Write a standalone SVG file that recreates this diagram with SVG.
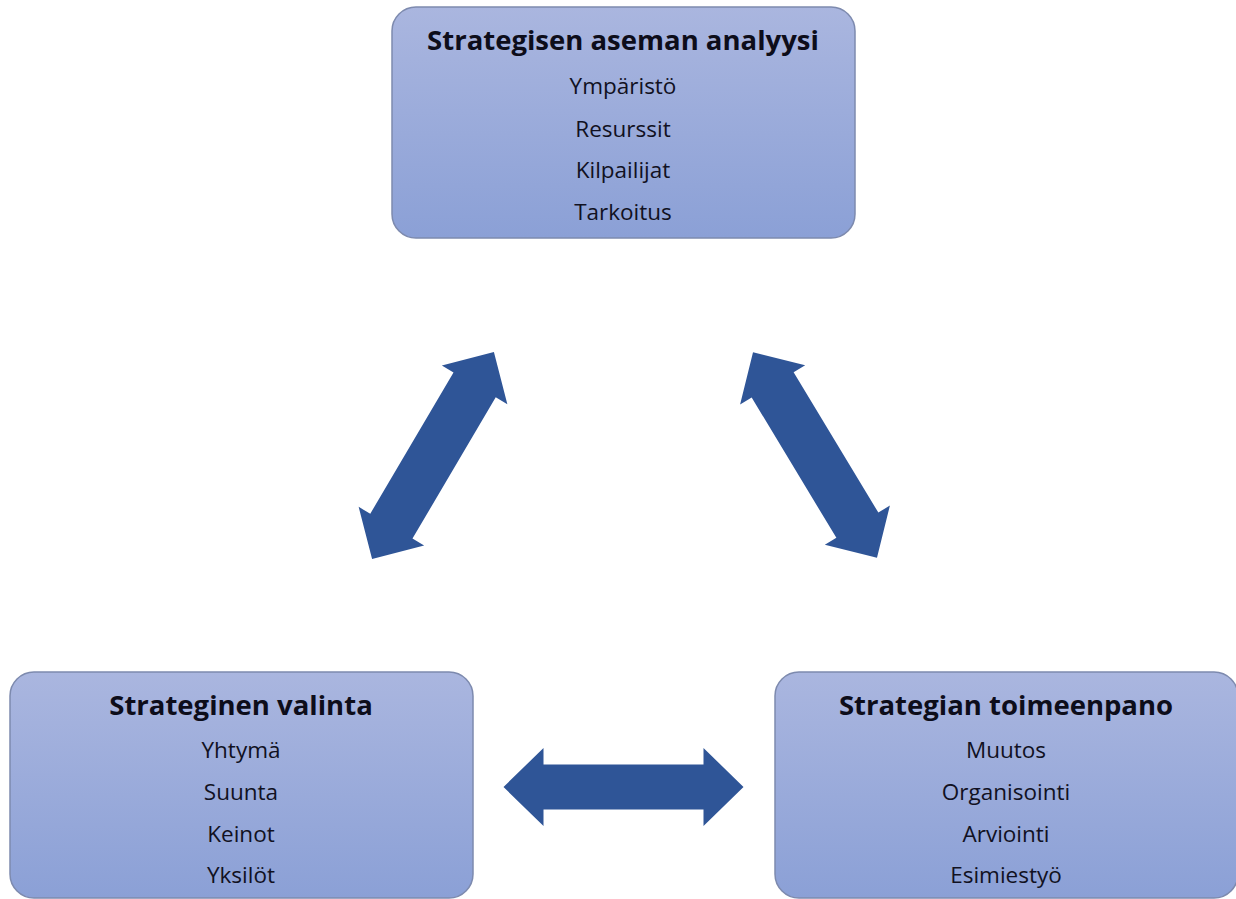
<svg xmlns="http://www.w3.org/2000/svg" width="1236" height="899" viewBox="0 0 1236 899">
  <defs>
    <linearGradient id="boxFill" x1="0" y1="0" x2="0" y2="1">
      <stop offset="0" stop-color="#AAB6DF"/>
      <stop offset="1" stop-color="#8BA0D6"/>
    </linearGradient>
    <!-- double-headed block arrows, centred on the origin, pointing along x -->
    <path id="dblArrow" d="M -120 0 L -80 -39 L -80 -22.5 L 80 -22.5 L 80 -39 L 120 0 L 80 39 L 80 22.5 L -80 22.5 L -80 39 Z"/>
    <path id="dblArrowWide" d="M -120 0 L -82 -38 L -82 -24.5 L 82 -24.5 L 82 -38 L 120 0 L 82 38 L 82 24.5 L -82 24.5 L -82 38 Z"/>
  </defs>
  <style>
    .box { fill: url(#boxFill); stroke: #7D8AAE; stroke-width: 1.5; }
    .title { font-family: "Open Sans", "Liberation Sans", sans-serif; font-weight: 700; font-size: 27.5px; fill: #0D0D1A; text-anchor: middle; }
    .item { font-family: "Open Sans", "Liberation Sans", sans-serif; font-size: 22.5px; fill: #111122; text-anchor: middle; }
    .arrow { fill: #2F5597; }
  </style>
  <rect width="1236" height="899" fill="#FFFFFF"/>

  <!-- connectors -->
  <g id="connectors">
    <use href="#dblArrowWide" class="arrow" transform="translate(433 455.5) rotate(-59.5)"/>
    <use href="#dblArrowWide" class="arrow" transform="translate(815 455) rotate(58.9)"/>
    <use href="#dblArrow" class="arrow" transform="translate(623.5 787)"/>
  </g>

  <g id="analyysi">
    <rect class="box" x="392" y="7" width="463" height="231" rx="24"/>
    <text class="title" x="623" y="50">Strategisen aseman analyysi</text>
    <text class="item" x="623" y="94">Ympäristö</text>
    <text class="item" x="623" y="137">Resurssit</text>
    <text class="item" x="623" y="178">Kilpailijat</text>
    <text class="item" x="623" y="220">Tarkoitus</text>
  </g>

  <g id="valinta">
    <rect class="box" x="10" y="672" width="463" height="226" rx="24"/>
    <text class="title" x="241" y="715">Strateginen valinta</text>
    <text class="item" x="241" y="758">Yhtymä</text>
    <text class="item" x="241" y="800">Suunta</text>
    <text class="item" x="241" y="842">Keinot</text>
    <text class="item" x="241" y="883">Yksilöt</text>
  </g>

  <g id="toimeenpano">
    <rect class="box" x="775" y="672" width="463" height="226" rx="24"/>
    <text class="title" x="1006" y="715">Strategian toimeenpano</text>
    <text class="item" x="1006" y="758">Muutos</text>
    <text class="item" x="1006" y="800">Organisointi</text>
    <text class="item" x="1006" y="842">Arviointi</text>
    <text class="item" x="1006" y="883">Esimiestyö</text>
  </g>
</svg>
